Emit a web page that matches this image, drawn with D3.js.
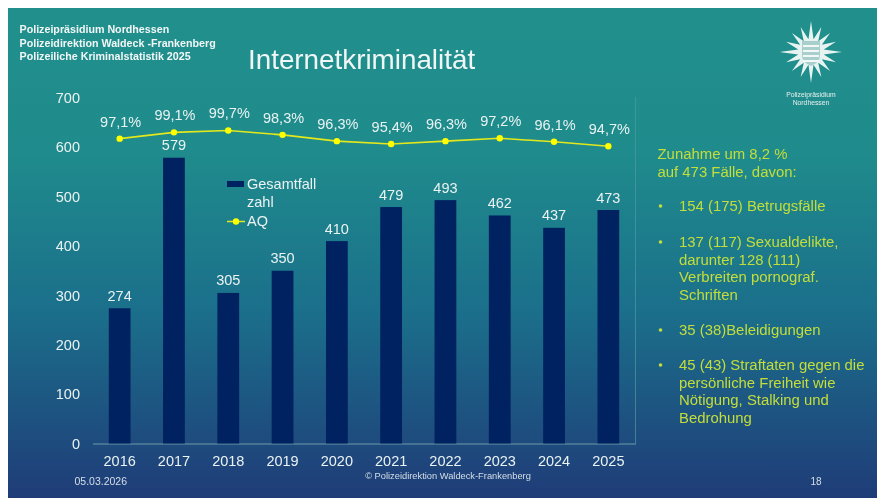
<!DOCTYPE html>
<html><head><meta charset="utf-8">
<script src="https://cdnjs.cloudflare.com/ajax/libs/d3/7.8.5/d3.min.js"></script>
<style>html,body{margin:0;padding:0;background:#fff;overflow:hidden}svg{display:block;font-family:"Liberation Sans",Arial,sans-serif}</style>
</head><body><svg id="c" width="877" height="498"></svg>
<script>
const years=["2016","2017","2018","2019","2020","2021","2022","2023","2024","2025"];
const cases=[274,579,305,350,410,479,493,462,437,473];
const aq=[97.1,99.1,99.7,98.3,96.3,95.4,96.3,97.2,96.1,94.7];
const aqLabels=["97,1%","99,1%","99,7%","98,3%","96,3%","95,4%","96,3%","97,2%","96,1%","94,7%"];
const yTicks=[0,100,200,300,400,500,600,700];
const headerLines=["Polizeipräsidium Nordhessen","Polizeidirektion Waldeck -Frankenberg","Polizeiliche Kriminalstatistik 2025"];
const sideIntro=["Zunahme um 8,2 %","auf 473 Fälle, davon:"];
const sideBullets=[
 ["154 (175) Betrugsfälle"],
 ["137 (117) Sexualdelikte,","darunter 128 (111)","Verbreiten pornograf.","Schriften"],
 ["35 (38)Beleidigungen"],
 ["45 (43) Straftaten gegen die","persönliche Freiheit wie","Nötigung, Stalking und","Bedrohung"]];
const bulletY=[206,242,330,365];

const svg=d3.select("#c");
const defs=svg.append("defs");
const g=defs.append("linearGradient").attr("id","bg").attr("x1",0).attr("y1",0).attr("x2",0).attr("y2",1);
g.append("stop").attr("offset","0").attr("stop-color","#21908c");
g.append("stop").attr("offset","0.3").attr("stop-color","#1f8b8c");
g.append("stop").attr("offset","0.62").attr("stop-color","#1b6f8b");
g.append("stop").attr("offset","1").attr("stop-color","#1f3c78");
defs.append("filter").attr("id","soft").append("feGaussianBlur").attr("stdDeviation",0.55);

svg.append("rect").attr("x",8).attr("y",8).attr("width",869).attr("height",490).attr("fill","url(#bg)");
const root=svg.append("g").attr("filter","url(#soft)");

const x=d3.scaleBand().domain(years).range([92.5,635.5]).paddingInner(0.6).paddingOuter(0.3);
const y=d3.scaleLinear().domain([0,700]).range([443.5,98]);
const yAq=d3.scaleLinear().domain([0,110]).range([444.5,98]);
const cx=d=>x(d)+x.bandwidth()/2;

// axes
const axB=root.append("g").attr("transform","translate(0,443.5)")
  .call(d3.axisBottom(x).tickSize(0).tickPadding(12));
axB.select(".domain").attr("stroke","#6f9aa8").attr("stroke-width",1);
axB.selectAll("text").attr("fill","#eaf2f2").attr("font-size",14.5).attr("font-family","Liberation Sans");
const axL=root.append("g").attr("transform","translate(92,0)")
  .call(d3.axisLeft(y).tickValues(yTicks).tickSize(0).tickPadding(12));
axL.select(".domain").remove();
axL.selectAll("text").attr("fill","#eaf2f2").attr("font-size",14.5).attr("font-family","Liberation Sans");
root.append("line").attr("x1",635.5).attr("x2",635.5).attr("y1",97).attr("y2",443.5).attr("stroke","#4f9aa0").attr("stroke-width",0.7);

// bars
root.selectAll("rect.b").data(cases).join("rect").attr("class","b")
 .attr("x",(d,i)=>x(years[i])).attr("width",x.bandwidth())
 .attr("y",d=>y(d)).attr("height",d=>y(0)-y(d)).attr("fill","#002060");
root.selectAll("text.bl").data(cases).join("text").attr("class","bl")
 .attr("x",(d,i)=>cx(years[i])).attr("y",d=>y(d)-7.5).attr("text-anchor","middle")
 .attr("fill","#eaf2f2").attr("font-size",14.5).text(d=>d);

// line
const ln=d3.line().x((d,i)=>cx(years[i])).y(d=>yAq(d));
root.append("path").attr("d",ln(aq)).attr("fill","none").attr("stroke","#e3e81c").attr("stroke-width",1.6);
root.selectAll("circle.p").data(aq).join("circle").attr("class","p")
 .attr("cx",(d,i)=>cx(years[i])).attr("cy",d=>yAq(d)).attr("r",3.2).attr("fill","#ffff00");
root.selectAll("text.al").data(aq).join("text").attr("class","al")
 .attr("x",(d,i)=>cx(years[i])+1).attr("y",d=>yAq(d)-12).attr("text-anchor","middle")
 .attr("fill","#eaf2f2").attr("font-size",14.5).text((d,i)=>aqLabels[i]);

// legend
root.append("rect").attr("x",227).attr("y",181).attr("width",17).attr("height",6).attr("fill","#002060");
root.append("text").attr("x",247).attr("y",189).attr("fill","#eaf2f2").attr("font-size",14.5).text("Gesamtfall");
root.append("text").attr("x",247).attr("y",207).attr("fill","#eaf2f2").attr("font-size",14.5).text("zahl");
root.append("line").attr("x1",227).attr("x2",245).attr("y1",221.5).attr("y2",221.5).attr("stroke","#e3e81c").attr("stroke-width",1.5);
root.append("circle").attr("cx",236).attr("cy",221.5).attr("r",3.2).attr("fill","#ffff00");
root.append("text").attr("x",247).attr("y",226).attr("fill","#eaf2f2").attr("font-size",14.5).text("AQ");

// header
root.selectAll("text.h").data(headerLines).join("text").attr("class","h")
 .attr("x",19.5).attr("y",(d,i)=>33+i*13.6).attr("fill","#f2f7f7").attr("font-size",10.7).attr("font-weight","bold").text(d=>d);
root.append("text").attr("x",248).attr("y",69).attr("fill","#f0f5f5").attr("font-size",27.8).text("Internetkriminalität");

// side text
const lime="#c3de3a";
root.selectAll("text.i").data(sideIntro).join("text").attr("class","i")
 .attr("x",657.5).attr("y",(d,i)=>159+i*17.7).attr("fill",lime).attr("font-size",14.9).text(d=>d);
sideBullets.forEach((lines,k)=>{
 root.append("circle").attr("cx",660.5).attr("cy",bulletY[k]).attr("r",1.8).attr("fill",lime);
 lines.forEach((t,j)=>root.append("text").attr("x",679).attr("y",bulletY[k]+5+j*17.7).attr("fill",lime).attr("font-size",14.9).text(t));
});

// footer
const ftr="#d5dfe8";
root.append("text").attr("x",74.5).attr("y",485).attr("fill",ftr).attr("font-size",10.5).text("05.03.2026");
root.append("text").attr("x",448).attr("y",479).attr("text-anchor","middle").attr("fill",ftr).attr("font-size",9.3).text("© Polizeidirektion Waldeck-Frankenberg");
root.append("text").attr("x",816).attr("y",485).attr("text-anchor","middle").attr("fill",ftr).attr("font-size",10).text("18");

// emblem
const star=root.append("g").attr("transform","translate(811,52)");
const pts=[];const n=16;
for(let i=0;i<n*2;i++){const a=i*Math.PI/n-Math.PI/2;const r=i%2==0?((i/2)%4==0?31:27):13;pts.push([r*Math.cos(a),r*Math.sin(a)]);}
star.append("path").attr("d",d3.line().curve(d3.curveLinearClosed)(pts)).attr("fill","#e6f3f1");
star.append("path").attr("d","M-9,-11H9V4Q9,10 0,14Q-9,10 -9,4Z").attr("fill","#a8cfcb");
star.selectAll("rect").data([-7,-2,3,8]).join("rect").attr("x",-8).attr("width",16).attr("y",d=>d).attr("height",2).attr("fill","#f2f8f7");
root.append("text").attr("x",811).attr("y",97).attr("text-anchor","middle").attr("fill","#e6f0ef").attr("font-size",6.8).text("Polizeipräsidium");
root.append("text").attr("x",811).attr("y",105).attr("text-anchor","middle").attr("fill","#e6f0ef").attr("font-size",6.8).text("Nordhessen");
</script></body></html>
